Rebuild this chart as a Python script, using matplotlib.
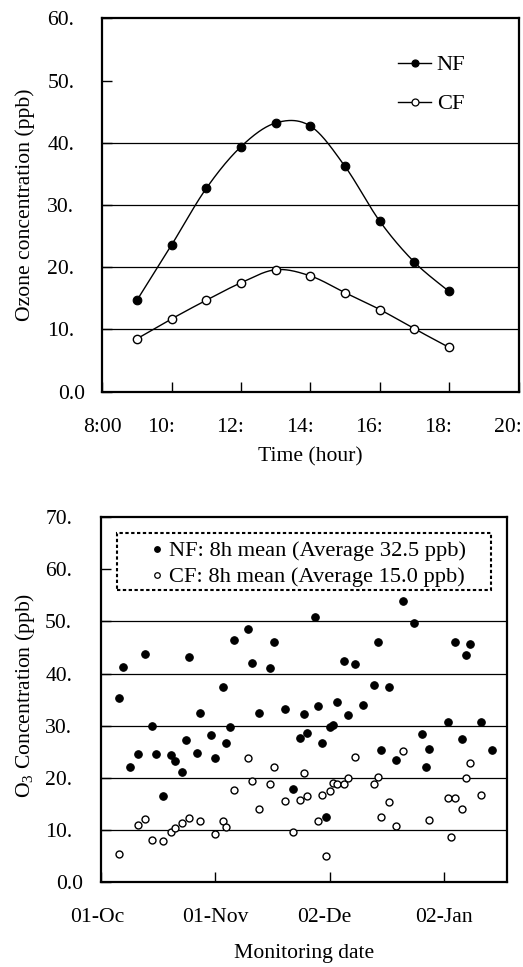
import numpy as np
import matplotlib
matplotlib.use("Agg")
import matplotlib.pyplot as plt
from matplotlib.transforms import IdentityTransform
from matplotlib.patches import Rectangle

# ---------------- data ----------------
hours = [9, 10, 11, 12, 13, 14, 15, 16, 17, 18]
nf_hourly = [14.7, 23.6, 32.7, 39.4, 43.2, 42.7, 36.2, 27.4, 20.8, 16.1]
cf_hourly = [8.5, 11.7, 14.7, 17.5, 19.6, 18.6, 15.9, 13.2, 10.1, 7.1]

top_yticks = [0, 10, 20, 30, 40, 50, 60]
top_ytick_labels = ["0.0", "10.", "20.", "30.", "40.", "50.", "60."]
top_xticks = [8, 10, 12, 14, 16, 18, 20]
top_xtick_labels = ["8:00", "10:", "12:", "14:", "16:", "18:", "20:"]
top_grid = [10, 20, 30, 40]

# days counted from 01-Oct
nf_days = [5, 6, 8, 10, 12, 14, 15, 17, 19, 20, 22, 23, 24, 26, 27, 30, 31, 33, 34, 35,
           36, 40, 41, 43, 46, 47, 50, 52, 54, 55, 56, 58, 59, 60, 61, 62, 63, 64, 66, 67,
           69, 71, 74, 75, 76, 78, 80, 82, 85, 87, 88, 89, 94, 96, 98, 99, 100, 103, 106]
nf_8h = [35.4, 41.2, 22.0, 24.6, 43.8, 29.9, 24.5, 16.5, 24.3, 23.3, 21.2, 27.2, 43.1, 24.8,
         32.5, 28.3, 23.9, 37.5, 26.6, 29.8, 46.4, 48.5, 42.1, 32.4, 41.1, 46.0, 33.3, 17.8,
         27.6, 32.3, 28.7, 50.8, 33.7, 26.7, 12.6, 29.8, 30.1, 34.5, 42.4, 32.1, 41.8, 34.0,
         37.9, 46.1, 25.4, 37.4, 23.4, 53.9, 49.6, 28.5, 22.1, 25.6, 30.8, 46.1, 27.5, 43.5,
         45.6, 30.7, 25.3]
cf_days = [5, 10, 12, 14, 17, 19, 20, 22, 24, 27, 31, 33, 34, 36, 40, 41, 43, 46, 47, 50,
           52, 54, 55, 56, 59, 60, 61, 62, 63, 64, 66, 67, 69, 74, 75, 76, 78, 80, 82, 89,
           94, 95, 96, 98, 99, 100, 103]
cf_8h = [5.5, 10.9, 12.2, 8.1, 8.0, 9.7, 10.4, 11.3, 12.4, 11.8, 9.2, 11.8, 10.6, 17.6,
         23.9, 19.4, 14.1, 18.9, 22.0, 15.5, 9.6, 15.8, 21.0, 16.5, 11.8, 16.8, 5.0, 17.5,
         19.1, 18.8, 18.9, 19.9, 24.0, 18.8, 20.2, 12.6, 15.3, 10.8, 25.2, 12.0, 16.2, 8.6,
         16.2, 14.0, 19.9, 22.8, 16.7]

bot_yticks = [0, 10, 20, 30, 40, 50, 60, 70]
bot_ytick_labels = ["0.0", "10.", "20.", "30.", "40.", "50.", "60.", "70."]
bot_xticks = [0, 31, 62, 93]
bot_xtick_full = ["01-Oct", "01-Nov", "02-Dec", "02-Jan"]
bot_xtick_labels = ["01-Oc", "01-Nov", "02-De", "02-Jan"]
bot_grid = [10, 20, 30, 40, 50]

legend_top = ["NF", "CF"]
legend_bot = ["NF: 8h mean (Average 32.5 ppb)", "CF: 8h mean (Average 15.0 ppb)"]

# ---------------- style ----------------
W, H, DPI = 523, 967, 100
FS = 15.6
FS_LEG = 16.2
plt.rcParams["font.family"] = ["Liberation Serif", "DejaVu Serif"]
plt.rcParams["mathtext.fontset"] = "custom"
plt.rcParams["mathtext.rm"] = "Liberation Serif"
plt.rcParams["mathtext.it"] = "Liberation Serif:italic"

fig = plt.figure(figsize=(W / DPI, H / DPI), dpi=DPI)
renderer = fig.canvas.get_renderer()
ID = IdentityTransform()


def px_axes(l, t, r, b):
    return fig.add_axes([l / W, 1 - b / H, (r - l) / W, (b - t) / H])


def ax_pt(ax, px, py):
    return ax.transAxes.inverted().transform((px, H - py))


def excel_smooth(x, y, n=40):
    p = np.column_stack([x, y]).astype(float)
    out = []
    for i in range(len(p) - 1):
        p0 = p[i - 1] if i > 0 else p[i]
        p1, p2 = p[i], p[i + 1]
        p3 = p[i + 2] if i + 2 < len(p) else p[i + 1]
        c1 = p1 + (p2 - p0) / 6
        c2 = p2 - (p3 - p1) / 6
        t = np.linspace(0, 1, n)[:, None]
        seg = (1 - t) ** 3 * p1 + 3 * (1 - t) ** 2 * t * c1 + 3 * (1 - t) * t ** 2 * c2 + t ** 3 * p2
        out.append(seg if i == 0 else seg[1:])
    s = np.vstack(out)
    return s[:, 0], s[:, 1]


def style_axes(ax):
    for sp in ax.spines.values():
        sp.set_linewidth(1.6)
        sp.set_color("black")
    ax.tick_params(direction="in", length=7, width=1, labelbottom=False, labelleft=False,
                   top=False, right=False)


def y_labels(ax, vals, shown, pad):
    xl = ax.transAxes.transform((0, 0))[0]
    for v, s in zip(vals, shown):
        yd = ax.transData.transform((ax.get_xlim()[0], v))[1]
        t = fig.text(xl - pad, yd, f"{v:.1f}", transform=ID, ha="right",
                     va="center_baseline", fontsize=FS)
        bb = t.get_window_extent(renderer)
        t.remove()
        fig.text(bb.x0, yd, s, transform=ID, ha="left", va="center_baseline", fontsize=FS)


def x_labels(ax, vals, full, shown, pad):
    yb = ax.transAxes.transform((0, 0))[1]
    for v, f, s in zip(vals, full, shown):
        xd = ax.transData.transform((v, ax.get_ylim()[0]))[0]
        t = fig.text(xd, yb - pad, f, transform=ID, ha="center", va="top", fontsize=FS)
        bb = t.get_window_extent(renderer)
        t.remove()
        fig.text(bb.x0, yb - pad, s, transform=ID, ha="left", va="top", fontsize=FS)


# ---------------- top chart ----------------
ax1 = px_axes(102.3, 18.5, 518.5, 391.6)
ax1.set_xlim(8, 20)
ax1.set_ylim(0, 60)
ax1.set_xticks(top_xticks)
ax1.set_yticks(top_yticks)
style_axes(ax1)
ax1.hlines(top_grid, 8, 20, color="black", lw=0.9, zorder=1)

sx, sy = excel_smooth(hours, nf_hourly)
ax1.plot(sx, sy, color="black", lw=1.0, zorder=2)
sx, sy = excel_smooth(hours, cf_hourly)
ax1.plot(sx, sy, color="black", lw=1.0, zorder=2)
ax1.plot(hours, nf_hourly, "o", ms=6.2, mfc="black", mec="black", mew=0.8, zorder=3)
ax1.plot(hours, cf_hourly, "o", ms=6.0, mfc="white", mec="black", mew=1.0, zorder=3)

# legend (top)
for lab, py, fc in zip(legend_top, [63.3, 101.7], ["black", "white"]):
    a0 = ax_pt(ax1, 398.3, py)
    a1 = ax_pt(ax1, 431.0, py)
    ax1.plot([a0[0], a1[0]], [a0[1], a0[1]], color="black", lw=1.0,
             transform=ax1.transAxes, clip_on=False)
    ax1.plot([(a0[0] + a1[0]) / 2], [a0[1]], "o", ms=5.0, mfc=fc, mec="black", mew=0.9,
             transform=ax1.transAxes, clip_on=False)
    at = ax_pt(ax1, 436.7, py)
    ax1.text(at[0], at[1], lab, transform=ax1.transAxes, ha="left", va="center_baseline",
             fontsize=FS_LEG)

y_labels(ax1, top_yticks, top_ytick_labels, 17)
x_labels(ax1, top_xticks, [f"{h}:00" for h in top_xticks], top_xtick_labels, 26)
fig.text(310.4 / W, 1 - 447 / H, "Time (hour)", ha="center", va="top", fontsize=FS)
fig.text(25 / W, 1 - 205 / H, "Ozone concentration (ppb)", ha="center", va="center",
         rotation=90, fontsize=FS)

# ---------------- bottom chart ----------------
ax2 = px_axes(100.7, 517.0, 506.7, 882.3)
ax2.set_xlim(0, 110)
ax2.set_ylim(0, 70)
ax2.set_xticks(bot_xticks)
ax2.set_yticks(bot_yticks)
style_axes(ax2)
ax2.hlines(bot_grid, 0, 110, color="black", lw=0.9, zorder=1)

ax2.plot(nf_days, nf_8h, "o", ms=5.4, mfc="black", mec="black", mew=0.8, zorder=3)
ax2.plot(cf_days, cf_8h, "o", ms=5.0, mfc="white", mec="black", mew=1.0, zorder=3)

# legend (bottom)
b0 = ax_pt(ax2, 117.3, 590.0)
b1 = ax_pt(ax2, 491.0, 533.3)
ax2.add_patch(Rectangle((b0[0], b0[1]), b1[0] - b0[0], b1[1] - b0[1], transform=ax2.transAxes,
                        fill=True, fc="white", ec="black", lw=1.5, ls=(0, (1.6, 1.2)),
                        zorder=4))
for lab, py, fc in zip(legend_bot, [549.0, 575.0], ["black", "white"]):
    m = ax_pt(ax2, 157.3, py)
    ax2.plot([m[0]], [m[1]], "o", ms=4.0, mfc=fc, mec="black", mew=0.9,
             transform=ax2.transAxes, zorder=5)
    tt = ax_pt(ax2, 169.0, py)
    ax2.text(tt[0], tt[1], lab, transform=ax2.transAxes, ha="left", va="center_baseline",
             fontsize=FS_LEG, zorder=5)

y_labels(ax2, bot_yticks, bot_ytick_labels, 17.7)
x_labels(ax2, bot_xticks, bot_xtick_full, bot_xtick_labels, 26)
fig.text(303.7 / W, 1 - 944 / H, "Monitoring date", ha="center", va="top", fontsize=FS)
fig.text(25 / W, 1 - 695 / H, r"O$_{\mathrm{3}}$ Concentration (ppb)", ha="center",
         va="center", rotation=90, fontsize=FS)

fig.savefig("out.png", dpi=DPI)
